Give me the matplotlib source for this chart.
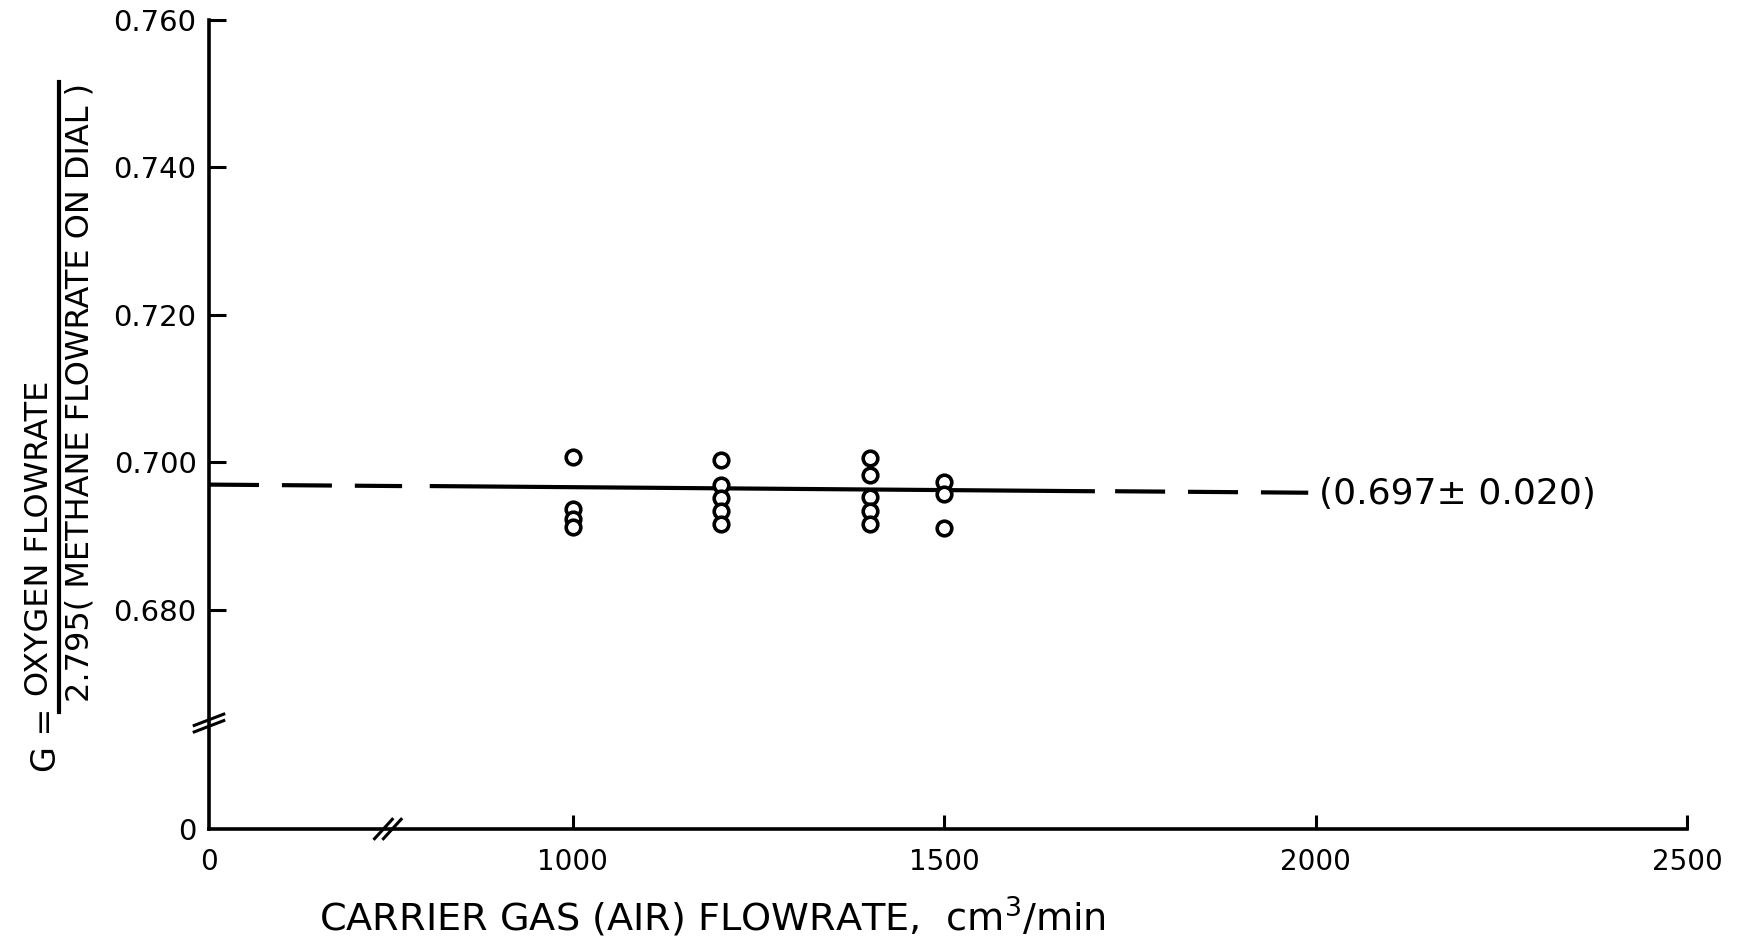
import matplotlib
matplotlib.use("Agg")
import matplotlib.pyplot as plt

# data
flow = [1000, 1000, 1000, 1000,
        1200, 1200, 1200, 1200, 1200,
        1400, 1400, 1400, 1400, 1400,
        1500, 1500, 1500]
g_ratio = [0.7007, 0.6937, 0.6924, 0.6913,
           0.7004, 0.6969, 0.6952, 0.6934, 0.6916,
           0.7006, 0.6983, 0.6953, 0.6934, 0.6916,
           0.6974, 0.6957, 0.6911]

# mean line (dashed - solid - dashed)
line_x_left = [510, 770]
line_y_left = [0.6970, 0.6968]
line_x_mid = [810, 1700]
line_y_mid = [0.6968, 0.6961]
line_x_right = [1730, 1990]
line_y_right = [0.6961, 0.6959]
mean_label = "(0.697\u00b1 0.020)"

yticks = [0.680, 0.700, 0.720, 0.740, 0.760]
ytick_labels = ["0.680", "0.700", "0.720", "0.740", "0.760"]
xticks = [1000, 1500, 2000, 2500]
xtick_labels = ["1000", "1500", "2000", "2500"]

# broken axes: the corner stands for 0 on both axes
x_zero = 510
y_zero = 0.6503

plt.rcParams['font.family'] = ['DejaVu Sans']

fig = plt.figure(figsize=(17.41, 9.43), dpi=100)
ax = fig.add_axes([209/1741, 114/943, 1478/1741, 809/943])

ax.plot(flow, g_ratio, 'o', ms=10.5, mfc='white', mec='black', mew=2.6, zorder=3)
ax.plot(line_x_left, line_y_left, color='black', lw=3.0, dashes=(12, 5.5))
ax.plot(line_x_mid, line_y_mid, color='black', lw=3.0)
ax.plot(line_x_right, line_y_right, color='black', lw=3.0, dashes=(12, 5.5))
ax.text(2004, 0.6957, mean_label, fontsize=26, va='center', ha='left')

ax.set_xlim(x_zero, 2500)
ax.set_ylim(y_zero, 0.760)
ax.set_xticks([x_zero] + xticks)
ax.set_xticklabels(["0"] + xtick_labels, fontsize=20)
ax.set_yticks([y_zero] + yticks)
ax.set_yticklabels(["0"] + ytick_labels, fontsize=21)

ax.spines['top'].set_visible(False)
ax.spines['right'].set_visible(False)
ax.spines['left'].set_linewidth(2.6)
ax.spines['bottom'].set_linewidth(2.6)
ax.tick_params(axis='y', direction='in', length=12, width=2.2, pad=9)
ax.tick_params(axis='x', direction='in', length=10, width=2.2, pad=14)
ax.xaxis.get_major_ticks()[0].tick1line.set_visible(False)
ax.yaxis.get_major_ticks()[0].tick1line.set_visible(False)

# break marks
brk = dict(color='black', lw=2.2, clip_on=False, transform=ax.transAxes)
for dx in (-0.006, 0.0):
    ax.plot([0.118 + dx, 0.130 + dx], [-0.012, 0.012], **brk)
for dy in (-0.008, 0.0):
    ax.plot([-0.010, 0.010], [0.128 + dy, 0.142 + dy], **brk)

fig.text(712/1741, 1 - 917/943, "CARRIER GAS (AIR) FLOWRATE,  cm$^3$/min",
         fontsize=27.5, ha='center', va='center')

# y label as a fraction
fig.text(47/1741, 1 - 740/943, "G =", fontsize=24, rotation=90,
         ha='center', va='center')
fig.text(40/1741, 1 - 538/943, "OXYGEN FLOWRATE", fontsize=23, rotation=90,
         ha='center', va='center')
fig.text(80/1741, 1 - 392/943, "2.795( METHANE FLOWRATE ON DIAL )", fontsize=23,
         rotation=90, ha='center', va='center')
fig.add_artist(plt.Line2D([59/1741, 59/1741], [1 - 712/943, 1 - 82/943],
                          color='black', lw=3.0))

fig.savefig("out.png", dpi=100)
